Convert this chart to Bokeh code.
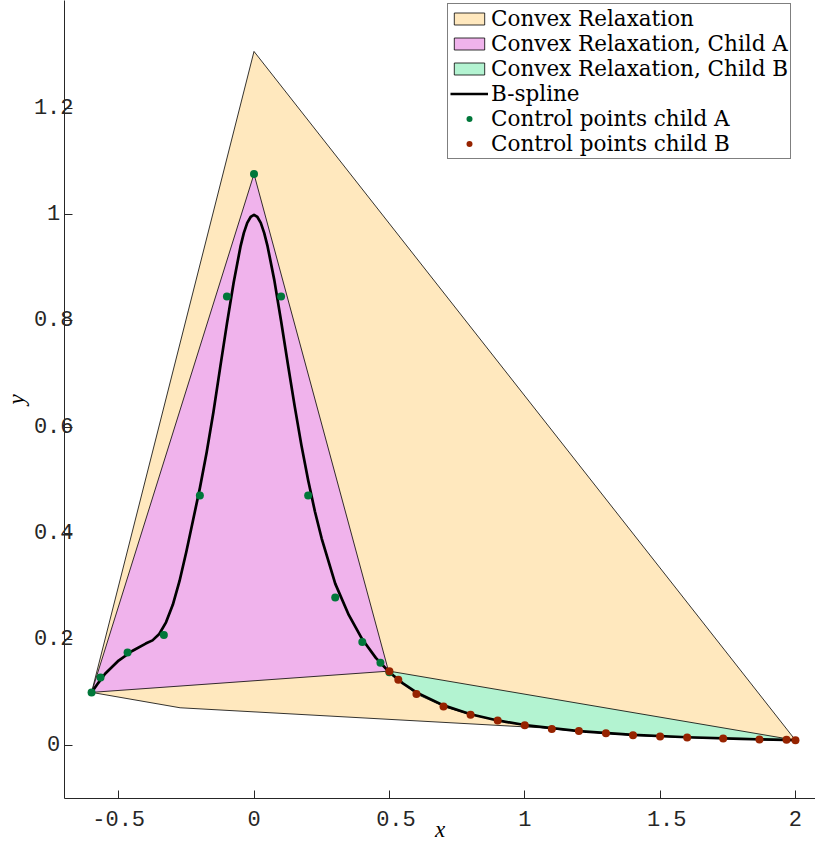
import math
from bokeh.plotting import figure
from bokeh.models import Range1d, FixedTicker, Legend
from bokeh.embed import file_html
from bokeh.resources import INLINE

# Convex relaxation (parent) polygon vertices
relax_x = [-0.6, 0.0, 2.0, 1.867, 1.6, 1.3, 1.07, -0.273]
relax_y = [0.1, 1.308, 0.0099, 0.0108, 0.0150, 0.0225, 0.0330, 0.071]

# Convex relaxation, child A
childA_x = [-0.6, 0.0, 0.497]
childA_y = [0.1, 1.077, 0.140]

# Control points child A
ctrlA_x = [-0.6, -0.567, -0.467, -0.333, -0.2, -0.1, 0.0, 0.1, 0.2, 0.3, 0.4, 0.467, 0.5]
ctrlA_y = [0.1, 0.128, 0.175, 0.208, 0.471, 0.846, 1.077, 0.846, 0.471, 0.279, 0.195, 0.156, 0.138]

# Control points child B
ctrlB_x = [0.5, 0.533, 0.6, 0.7, 0.8, 0.9, 1.0, 1.1, 1.2, 1.3, 1.4, 1.5, 1.6, 1.733, 1.867, 1.967, 2.0]
ctrlB_y = [0.140, 0.124, 0.097, 0.0735, 0.058, 0.047, 0.038, 0.031, 0.027, 0.023, 0.019, 0.017,
           0.015, 0.013, 0.011, 0.0105, 0.0099]

# B-spline curve
spline_x = [-0.6, -0.575, -0.55, -0.5, -0.45, -0.4, -0.375, -0.35, -0.325, -0.3, -0.275, -0.25,
            -0.225, -0.2, -0.175, -0.15, -0.125, -0.1, -0.075, -0.05, -0.0375, -0.025, -0.0125,
            0.0, 0.0125, 0.025, 0.0375, 0.05, 0.075, 0.1,
            0.125, 0.15, 0.175, 0.2, 0.225, 0.25, 0.3, 0.35, 0.4, 0.45, 0.5, 0.55, 0.6, 0.7,
            0.8, 0.9, 1.0, 1.2, 1.4, 1.6, 1.8, 2.0]
spline_y = [0.100, 0.118, 0.135, 0.160, 0.178, 0.192, 0.198, 0.210, 0.232, 0.265, 0.310, 0.365,
            0.425, 0.485, 0.552, 0.628, 0.712, 0.795, 0.873, 0.940, 0.966, 0.985, 0.996,
            1.000, 0.996, 0.985, 0.966, 0.941, 0.877, 0.800,
            0.719, 0.640, 0.566, 0.500, 0.441, 0.390, 0.305, 0.246, 0.200, 0.165, 0.138, 0.117,
            0.100, 0.0755, 0.0588, 0.0471, 0.0385, 0.0270, 0.0200, 0.0154, 0.0122, 0.0099]

x_ticks = [-0.5, 0.0, 0.5, 1.0, 1.5, 2.0]
x_tick_labels = ["-0.5", "0", "\u00a00.5", "1", "\u00a01.5", "2"]
y_ticks = [0.0, 0.2, 0.4, 0.6, 0.8, 1.0, 1.2]
y_tick_labels = ["0\u00a0", "0.2", "0.4", "0.6", "0.8", "1\u00a0", "1.2"]

legend_names = ["Convex Relaxation", "Convex Relaxation, Child A", "Convex Relaxation, Child B",
                "B-spline", "Control points child A", "Control points child B"]

AX = "#262626"
p = figure(width=815, height=845, output_backend="svg", toolbar_location=None,
           x_range=Range1d(-0.7, 2.074), y_range=Range1d(-0.1, 1.404),
           min_border_left=64, min_border_right=0, min_border_top=0, min_border_bottom=47)
p.outline_line_color = None
p.xgrid.visible = False
p.ygrid.visible = False
p.background_fill_color = "white"

r1 = p.patch(relax_x, relax_y, fill_color="#FFE8BE", line_color="black", line_width=0.8)
r2 = p.patch(childA_x, childA_y, fill_color="#F0B3EC", line_color="black", line_width=0.8)
r3 = p.patch(ctrlB_x, ctrlB_y, fill_color="#B3F3D1", line_color="black", line_width=0.8)
r4 = p.line(spline_x, spline_y, line_color="black", line_width=2.7, line_join="round")
r5 = p.scatter(ctrlA_x, ctrlA_y, size=8, fill_color="#00773A", line_color=None)
r6 = p.scatter(ctrlB_x, ctrlB_y, size=8, fill_color="#962300", line_color=None)

legend = Legend(items=[(n, [r]) for n, r in zip(legend_names, [r1, r2, r3, r4, r5, r6])],
                location=(383, 639))
legend.label_text_font = "DejaVu Serif"
legend.label_text_font_size = "21.5px"
legend.label_text_color = "black"
legend.border_line_color = "black"
legend.border_line_width = 1
legend.background_fill_color = "white"
legend.background_fill_alpha = 1.0
legend.glyph_width = 38
legend.glyph_height = 15
legend.label_height = 20
legend.label_standoff = 3
legend.spacing = 0
legend.padding = 2
legend.margin = 0
p.add_layout(legend, "center")

for ax, ticks, labels in [(p.xaxis[0], x_ticks, x_tick_labels), (p.yaxis[0], y_ticks, y_tick_labels)]:
    ax.ticker = FixedTicker(ticks=ticks)
    ax.major_label_overrides = {t: l for t, l in zip(ticks, labels)}
    ax.minor_tick_line_color = None
    ax.major_tick_in = 8
    ax.major_tick_out = 0
    ax.axis_line_color = AX
    ax.major_tick_line_color = AX
    ax.major_label_text_color = AX
    ax.major_label_text_font = "Liberation Mono"
    ax.major_label_text_font_size = "22px"
    ax.axis_label_text_font = "Liberation Serif"
    ax.axis_label_text_font_style = "italic"
    ax.axis_label_text_font_size = "23px"
    ax.axis_label_text_color = "black"
p.xaxis.major_label_standoff = 9
p.yaxis.major_label_standoff = -9
p.xaxis.axis_label = "x"
p.yaxis.axis_label = "y"
p.xaxis.axis_label_standoff = -19
p.yaxis.axis_label_standoff = 2

open("out.html", "w").write(file_html(p, INLINE))
